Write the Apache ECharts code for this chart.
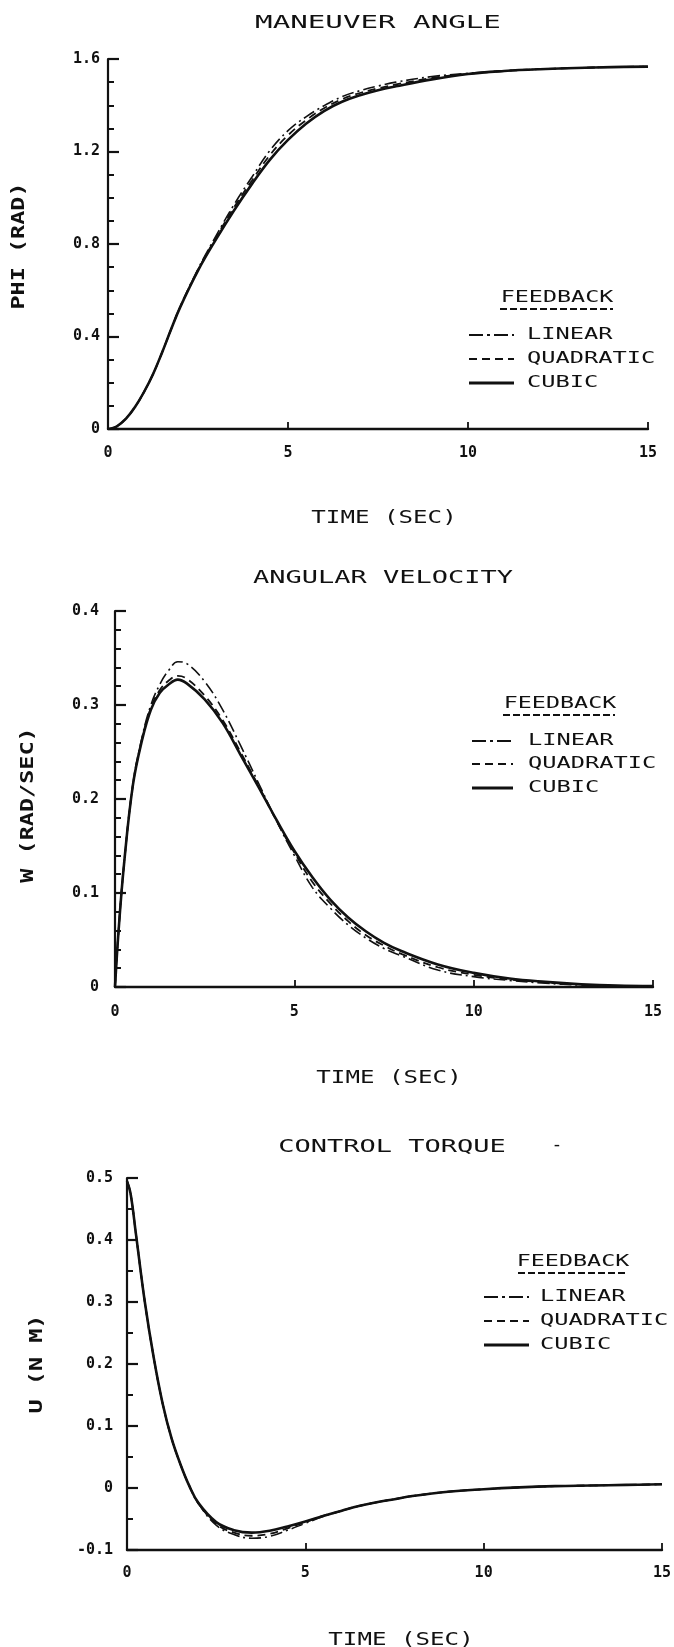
<!DOCTYPE html>
<html>
<head>
<meta charset="utf-8">
<title>Feedback comparison: maneuver angle, angular velocity, control torque</title>
<script src="https://cdn.jsdelivr.net/npm/echarts@6/dist/echarts.min.js"></script>
<style>
  html, body { margin: 0; padding: 0; background: #fff; }
  #chart { width: 674px; height: 1647px; }
</style>
</head>
<body>
<div id="chart"></div>
<script>
// Sample times (sec)
const time = [0, 0.1, 0.25, 0.5, 0.75, 1, 1.25, 1.5, 1.75, 2, 2.5, 3, 3.5, 4, 4.5, 5,
              5.5, 6, 6.5, 7, 7.5, 8, 9, 10, 11, 12, 13, 14, 15];

// Maneuver angle PHI (rad)
const phiLinear    = [0, 0.002, 0.012, 0.045, 0.095, 0.16, 0.237, 0.33, 0.43, 0.527, 0.692, 0.835, 0.97, 1.09, 1.205, 1.29,
                      1.35, 1.398, 1.437, 1.463, 1.483, 1.5, 1.524, 1.538, 1.549, 1.556, 1.561, 1.565, 1.567];
const phiQuadratic = [0, 0.002, 0.012, 0.045, 0.095, 0.16, 0.237, 0.33, 0.43, 0.526, 0.688, 0.828, 0.958, 1.075, 1.185, 1.27,
                      1.335, 1.387, 1.426, 1.453, 1.473, 1.49, 1.518, 1.536, 1.548, 1.556, 1.561, 1.565, 1.567];
const phiCubic     = [0, 0.002, 0.012, 0.045, 0.095, 0.16, 0.237, 0.33, 0.43, 0.525, 0.685, 0.82, 0.945, 1.06, 1.165, 1.25,
                      1.32, 1.375, 1.415, 1.443, 1.465, 1.482, 1.512, 1.535, 1.548, 1.556, 1.561, 1.565, 1.567];

// Angular velocity W (rad/sec)
const omegaLinear    = [0, 0.06, 0.13, 0.216, 0.265, 0.3, 0.322, 0.337, 0.346, 0.344, 0.325, 0.295, 0.257, 0.217, 0.177, 0.14,
                        0.106, 0.084, 0.066, 0.052, 0.041, 0.033, 0.018, 0.011, 0.007, 0.004, 0.002, 0.001, 0.0005];
const omegaQuadratic = [0, 0.06, 0.13, 0.215, 0.263, 0.297, 0.316, 0.326, 0.331, 0.328, 0.31, 0.284, 0.25, 0.214, 0.177, 0.143,
                        0.112, 0.089, 0.07, 0.055, 0.044, 0.035, 0.021, 0.013, 0.008, 0.005, 0.0025, 0.0012, 0.0008];
const omegaCubic     = [0, 0.06, 0.13, 0.215, 0.262, 0.295, 0.313, 0.322, 0.327, 0.323, 0.306, 0.281, 0.247, 0.213, 0.178, 0.145,
                        0.117, 0.093, 0.074, 0.059, 0.047, 0.038, 0.024, 0.015, 0.009, 0.0055, 0.003, 0.0015, 0.001];

// Control torque U (N M)
const torqueLinear    = [0.495, 0.475, 0.41, 0.3, 0.21, 0.136, 0.08, 0.038, 0.003, -0.025, -0.06, -0.075, -0.081, -0.078, -0.068, -0.057,
                         -0.046, -0.037, -0.029, -0.023, -0.018, -0.013, -0.006, -0.002, 0.001, 0.003, 0.004, 0.005, 0.006];
const torqueQuadratic = [0.495, 0.475, 0.41, 0.3, 0.21, 0.136, 0.08, 0.038, 0.003, -0.024, -0.058, -0.072, -0.077, -0.074, -0.065, -0.055,
                         -0.045, -0.037, -0.029, -0.023, -0.018, -0.013, -0.006, -0.002, 0.001, 0.003, 0.004, 0.005, 0.006];
const torqueCubic     = [0.495, 0.475, 0.41, 0.3, 0.21, 0.136, 0.08, 0.038, 0.003, -0.024, -0.055, -0.068, -0.072, -0.069, -0.062, -0.054,
                         -0.045, -0.037, -0.029, -0.023, -0.018, -0.013, -0.006, -0.002, 0.001, 0.003, 0.004, 0.005, 0.006];

// Axis ticks
const timeTicks   = [0, 5, 10, 15];
const phiTicks    = [0, 0.4, 0.8, 1.2, 1.6];
const omegaTicks  = [0, 0.1, 0.2, 0.3, 0.4];
const torqueTicks = [-0.1, 0, 0.1, 0.2, 0.3, 0.4, 0.5];

// Panel and legend texts
const panelTitles = ['MANEUVER ANGLE', 'ANGULAR VELOCITY', 'CONTROL TORQUE'];
const yNames = ['PHI (RAD)', 'W (RAD/SEC)', 'U (N M)'];
const xName = 'TIME (SEC)';
const legendTitle = 'FEEDBACK';
const seriesNames = ['LINEAR', 'QUADRATIC', 'CUBIC'];

const INK = '#111';
const FONT = '"DejaVu Sans Mono", "Liberation Mono", monospace';

const lineStyles = [
  { width: 1.6, type: [12, 4, 2, 4] },   // dash-dot
  { width: 1.8, type: [8, 5] },          // dashed
  { width: 2.6, type: 'solid' }
];

const pairs = (vals) => time.map((t, i) => [t, vals[i]]);
const fmt = (v) => (Math.abs(v) < 1e-9 ? '0' : String(+v.toFixed(2)));

const panels = [
  { grid: { left: 108, top: 59, right: 26, height: 370 }, ticks: phiTicks, minor: 4, labelGap: 8, xGap: 17,
    data: [phiLinear, phiQuadratic, phiCubic] },
  { grid: { left: 115, top: 611, right: 21, height: 376 }, ticks: omegaTicks, minor: 5, labelGap: 16, xGap: 18,
    data: [omegaLinear, omegaQuadratic, omegaCubic] },
  { grid: { left: 127, top: 1178, right: 12, height: 372 }, ticks: torqueTicks, minor: 2, labelGap: 14, xGap: 16,
    data: [torqueLinear, torqueQuadratic, torqueCubic] }
];

const grids = [], xAxes = [], yAxes = [], series = [];
panels.forEach((p, k) => {
  grids.push(p.grid);
  xAxes.push({
    type: 'value', gridIndex: k,
    min: timeTicks[0], max: timeTicks[timeTicks.length - 1], interval: timeTicks[1] - timeTicks[0],
    axisLine: { onZero: false, lineStyle: { color: INK, width: 2.4 } },
    axisTick: { inside: true, length: 7, lineStyle: { color: INK, width: 1.8 } },
    axisLabel: { margin: p.xGap, color: INK, fontFamily: FONT, fontSize: 15, fontWeight: 'bold', formatter: fmt },
    splitLine: { show: false }
  });
  const step = +(p.ticks[1] - p.ticks[0]).toFixed(4);
  yAxes.push({
    type: 'value', gridIndex: k,
    min: p.ticks[0], max: p.ticks[p.ticks.length - 1], interval: step,
    axisLine: { show: true, onZero: false, lineStyle: { color: INK, width: 2.2 } },
    axisTick: { inside: true, length: 11, lineStyle: { color: INK, width: 2.2 } },
    minorTick: { show: true, splitNumber: p.minor, length: 6, lineStyle: { color: INK, width: 2 } },
    axisLabel: { margin: p.labelGap, color: INK, fontFamily: FONT, fontSize: 15, fontWeight: 'bold', formatter: fmt },
    splitLine: { show: false }
  });
  p.data.forEach((vals, j) => {
    series.push({
      name: seriesNames[j], type: 'line', xAxisIndex: k, yAxisIndex: k,
      data: pairs(vals), symbol: 'none', smooth: 0.4,
      lineStyle: { color: INK, width: lineStyles[j].width, type: lineStyles[j].type },
      z: 3 - j
    });
  });
});

// Text helper: centred, optionally stretched along its baseline
function text(str, x, y, size, sx, extra) {
  return Object.assign({
    type: 'text', x: x, y: y, scaleX: sx, silent: true,
    style: { text: str, fill: INK, font: size + 'px ' + FONT, textAlign: 'center', textVerticalAlign: 'middle' }
  }, extra || {});
}
function seg(x1, y1, x2, y2, w, dash) {
  return { type: 'line', silent: true,
    shape: { x1: x1, y1: y1, x2: x2, y2: y2 },
    style: { stroke: INK, lineWidth: w, lineDash: dash || null } };
}

// Placement of titles, axis names and legend blocks
const annot = [
  { title: [378, 23], ts: 1.62, xname: [384, 519], yname: [20, 246],
    leg: { head: [557, 298], under: [500, 613, 309], rows: [335, 359, 383], sample: [469, 514], textX: 527 } },
  { title: [383, 578], ts: 1.5, xname: [389, 1079], yname: [29, 805],
    leg: { head: [560, 704], under: [503, 615, 715], rows: [741, 764, 788], sample: [472, 513], textX: 528 } },
  { title: [392, 1147], ts: 1.5, xname: [401, 1641], yname: [38, 1364],
    leg: { head: [573, 1262], under: [518, 628, 1273], rows: [1297, 1321, 1345], sample: [484, 529], textX: 540 } }
];

const graphics = [];
annot.forEach((a, k) => {
  graphics.push(text(panelTitles[k], a.title[0], a.title[1], 18, a.ts));
  graphics.push(text(xName, a.xname[0], a.xname[1], 17, 1.42));
  graphics.push(text(yNames[k], a.yname[0], a.yname[1], 17, 1.38,
    { rotation: Math.PI / 2, style: { text: yNames[k], fill: INK, font: 'bold 17px ' + FONT, textAlign: 'center', textVerticalAlign: 'middle' } }));
  const L = a.leg;
  graphics.push(text(legendTitle, L.head[0], L.head[1], 16, 1.46));
  graphics.push(seg(L.under[0], L.under[2], L.under[1], L.under[2], 2, [7, 3]));
  seriesNames.forEach((nm, j) => {
    const y = L.rows[j];
    const dash = j === 0 ? [14, 4, 3, 4] : (j === 1 ? [8, 5] : null);
    graphics.push(seg(L.sample[0], y, L.sample[1], y, j === 2 ? 2.8 : 2.2, dash));
    graphics.push(text(nm, L.textX, y, 16, 1.48, {
      style: { text: nm, fill: INK, font: '16px ' + FONT, textAlign: 'left', textVerticalAlign: 'middle' } }));
  });
});
// short stroke beside the third title
graphics.push(text('-', 557, 1145, 18, 1));

const chart = echarts.init(document.getElementById('chart'), null, { renderer: 'canvas', width: 674, height: 1647 });
chart.setOption({
  backgroundColor: '#fff',
  animation: false,
  grid: grids,
  xAxis: xAxes,
  yAxis: yAxes,
  series: series,
  graphic: { elements: graphics }
});
</script>
</body>
</html>
